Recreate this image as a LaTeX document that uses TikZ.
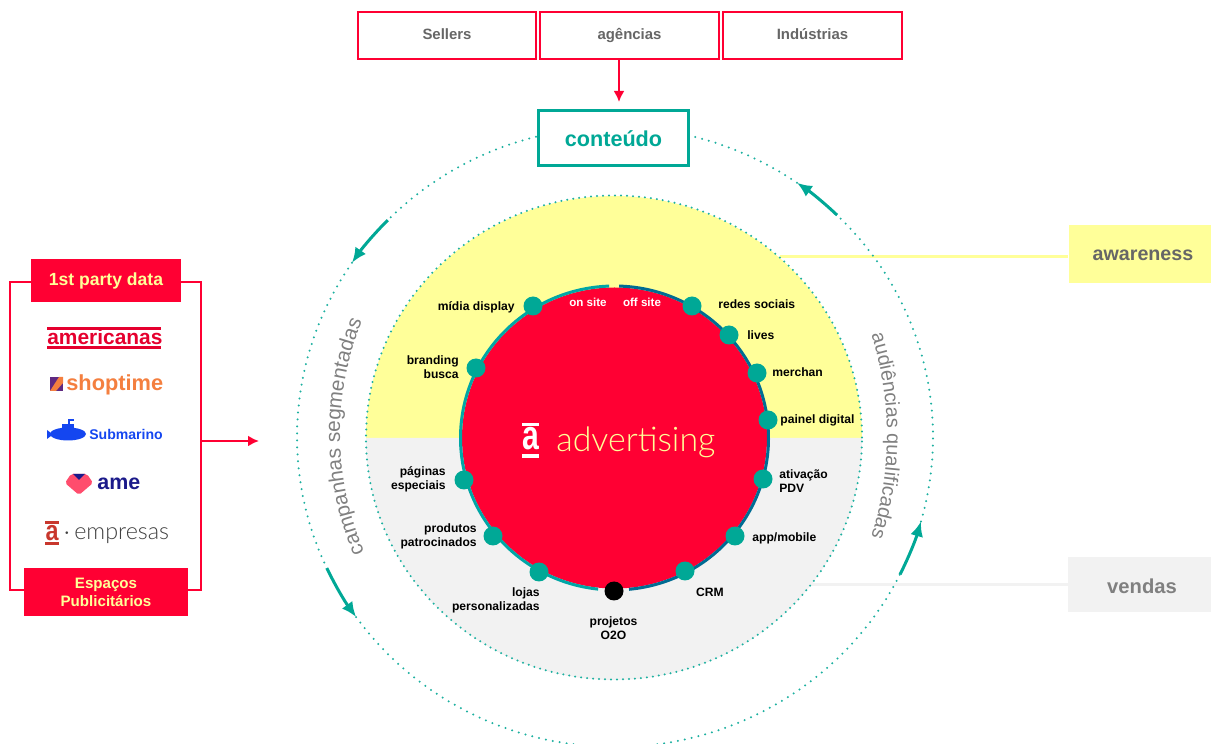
\documentclass[tikz,border=0pt]{standalone}
\usepackage{fontspec}
\setmainfont{Liberation Sans}
\newfontfamily\leve{Lato Light}
\usepackage{graphicx}
\usetikzlibrary{decorations.text,arrows.meta}

\definecolor{vermelho}{HTML}{FF0033}
\definecolor{verde}{HTML}{00A896}
\definecolor{verdeC}{HTML}{1DB0A0}
\definecolor{amarelo}{HTML}{FFFF99}
\definecolor{cinza}{HTML}{F2F2F2}
\definecolor{azul}{HTML}{1446F0}
\definecolor{marinho}{HTML}{1B1A8A}
\definecolor{laranja}{HTML}{F47F3F}
\definecolor{rosa}{HTML}{FF4D6D}
\definecolor{tijolo}{HTML}{C8372D}
\newcommand{\tam}[2]{\fontsize{#1}{#2}\selectfont}

\begin{document}
\begin{tikzpicture}[x=0.02cm, y=0.02cm,
  fonte/.style={draw=vermelho,line width=.04cm,fill=white,inner sep=0,minimum width=3.58cm,minimum height=.94cm,font=\bfseries\tam{8.5}{10},text=black!60,text height=.22cm,text depth=.04cm},
  titulo/.style={fill=vermelho,inner sep=0,text=amarelo,align=center},
  faixa/.style={inner sep=0,minimum width=2.86cm},
  seta/.style={-{Latex[length=.22cm,width=.22cm]},draw=vermelho,line width=.05cm},
  anel/.style={x radius=318,y radius=310},
  pontos/.style={draw=verdeC,line width=.045cm,line cap=round,dash pattern=on 0pt off #1},
  giro/.style={-{Latex[length=.3cm,width=.26cm]},draw=verde,line width=.06cm},
  ponto/.style={circle,fill=verde,inner sep=0,minimum size=.38cm},
  rotulo/.style={inner sep=0,font=\bfseries\tam{6.9}{8},align=#1},
  rotulo/.default=center,
  logo/.style={inner sep=0,anchor=base west}]
\useasboundingbox (0,0) rectangle (1211,744);

\coordinate (centro) at (615,307);
\coordinate (meio) at (614,306.5);
\coordinate (nucleo) at (614.5,306);

% faixas da direita
\node [faixa,fill=amarelo,minimum height=1.16cm,font=\bfseries\tam{11.2}{13},text=black!60,text height=.26cm,text depth=0pt] (awareness) at (1140,490) {\hspace{.12cm}awareness};
\node [faixa,fill=cinza,minimum width=2.86cm,minimum height=1.1cm,font=\bfseries\tam{11.5}{13},text=black!50,text height=.36cm,text depth=0pt] (vendas) at (1139.5,159.5) {\hspace{.1cm}vendas};
\coordinate (fimA) at (780,487);
\coordinate (fimB) at (811,159);
\draw [amarelo,line width=.06cm] (fimA) -- (awareness.west |- fimA);
\draw [cinza,line width=.06cm] (fimB) -- (vendas.west |- fimB);

% meio circulo amarelo e cinza
\fill [amarelo] (366,306) arc[start angle=180,end angle=0,x radius=248,y radius=242] -- cycle;
\fill [cinza] (366,306) arc[start angle=180,end angle=360,x radius=248,y radius=242] -- cycle;
\draw [pontos=.12cm] (meio) ellipse [x radius=248,y radius=242];

% anel de fora
\draw [pontos=.14cm] ([shift={(145.8:318 and 310)}]centro) arc[anel,start angle=145.8,end angle=205];
\draw [pontos=.14cm] ([shift={(215.5:318 and 310)}]centro) arc[anel,start angle=215.5,end angle=333.7];
\draw [pontos=.14cm] ([shift={(-15.8:318 and 310)}]centro) arc[anel,start angle=-15.8,end angle=45.7];
\draw [pontos=.14cm] ([shift={(55.1:318 and 310)}]centro) arc[anel,start angle=55.1,end angle=135.6];
\draw [giro] ([shift={(135.6:318 and 310)}]centro) arc[anel,start angle=135.6,end angle=145.8];
\draw [giro] ([shift={(205:318 and 310)}]centro) arc[anel,start angle=205,end angle=215.5];
\draw [giro] ([shift={(333.7:318 and 310)}]centro) arc[anel,start angle=333.7,end angle=344.2];
\draw [giro] ([shift={(45.7:318 and 310)}]centro) arc[anel,start angle=45.7,end angle=55.1];

% textos curvos
\path [postaction={decorate},decoration={text along path,text align=center,
  text={|\tam{11.8}{13}\color{black!50}|campanhas segmentadas}}]
  (640,310) ++(203.4:300) arc[start angle=203.4,end angle=157.7,radius=300];
\path [postaction={decorate},decoration={text along path,text align=center,
  text={|\tam{11.3}{13}\color{black!50}|audiências qualificadas}}]
  (554,308) ++(17.8:333) arc[start angle=17.8,end angle=-17.8,radius=333];

% circulo vermelho
\fill [vermelho] (nucleo) ellipse [x radius=152.5,y radius=150.5];
\draw [teal!70!cyan,line width=.06cm] ([shift={(92:154 and 152)}]nucleo) arc[start angle=92,end angle=263.9,x radius=154,y radius=152];
\draw [teal!85!blue,line width=.06cm] ([shift={(-84.6:154 and 152)}]nucleo) arc[start angle=-84.6,end angle=88.3,x radius=154,y radius=152];

\node [inner sep=0,text=white] (onsite) at (588,442) {\bfseries\tam{6.6}{8}on site};
\node [inner sep=0,text=white] (offsite) at (642,442) {\bfseries\tam{6.6}{8}off site};

\fill [white] (522,321) rectangle (539,318);
\fill [white] (522,290) rectangle (539,286);
\node [inner sep=0,text=white] (letraA) at (530.5,305) {\scalebox{.73}[1]{\bfseries\tam{23.5}{26}a}};
\node [inner sep=0,anchor=west,text=amarelo] (advertising) at (556,302) {\leve\tam{19.3}{24}advertising};

% pontos do circulo
\node [ponto] (midia) at (533,438) {};
\node [ponto] (redes) at (692,438) {};
\node [ponto] (lives) at (729,409) {};
\node [ponto] (merchan) at (757,371) {};
\node [ponto] (painel) at (768,324) {};
\node [ponto] (branding) at (476,376) {};
\node [ponto] (paginas) at (464,264) {};
\node [ponto] (produtos) at (493,208) {};
\node [ponto] (lojas) at (539,172) {};
\node [ponto,fill=black] (projetos) at (614,153) {};
\node [ponto] (crm) at (685,173) {};
\node [ponto] (app) at (735,208) {};
\node [ponto] (ativacao) at (763,265) {};

\node [rotulo,anchor=east] (tmidia) at (515,437) {mídia display};
\node [rotulo,anchor=west] (tredes) at (718,440) {redes sociais};
\node [rotulo,anchor=west] (tlives) at (747,409) {lives};
\node [rotulo,anchor=west] (tmerchan) at (772,372) {merchan};
\node [rotulo,anchor=west] (tpainel) at (780,324) {painel digital};
\node [rotulo=right,anchor=east] (tbranding) at (459,377) {branding\\busca};
\node [rotulo=right,anchor=east] (tpaginas) at (446,265) {páginas\\especiais};
\node [rotulo=right,anchor=east] (tprodutos) at (477,208) {produtos\\patrocinados};
\node [rotulo=right,anchor=east] (tlojas) at (540,144) {lojas\\personalizadas};
\node [rotulo] (tprojetos) at (613.5,116) {projetos\\O2O};
\node [rotulo] (tcrm) at (710,152) {CRM};
\node [rotulo,anchor=west] (tapp) at (752,206) {app/mobile};
\node [rotulo=left,anchor=west] (tativacao) at (779,263) {ativação\\PDV};

% caixas de cima
\node [fonte] (sellers) at (447,708.5) {Sellers};
\node [fonte] (agencias) at (629.5,708.5) {agências};
\node [fonte] (industrias) at (812.5,708.5) {Indústrias};
\node [draw=verde,line width=.06cm,fill=white,inner sep=0,minimum width=3.02cm,minimum height=1.1cm,font=\bfseries\tam{12.3}{14},text=verde] (conteudo) at (613.5,605.5) {conteúdo};
\coordinate (pontaA) at (619,642);
\draw [seta] (agencias.south -| pontaA) -- (pontaA);

% painel da esquerda
\node [draw=vermelho,line width=.04cm,inner sep=0,minimum width=3.82cm,minimum height=6.16cm] (dados) at (105.5,308) {};
\node [titulo,minimum width=3cm,minimum height=.86cm,font=\bfseries\tam{10}{12}] (party) at (106,463.5) {1st party data};
\node [titulo,minimum width=3.28cm,minimum height=.96cm,font=\bfseries\tam{8.6}{10.2}] (espacos) at (106,152) {Espaços\\Publicitários};
\coordinate (pontaB) at (259,303);
\draw [seta] (dados.east |- pontaB) -- (pontaB);

% marcas
\fill [vermelho!90!black] (47,417) rectangle (161,414);
\fill [vermelho!90!black] (47,398) rectangle (161,395);
\node [logo,text=vermelho!90!black] (americanas) at (47,399.5) {\bfseries\tam{11.9}{14}americanas};

\fill [marinho!70!rosa] (50,353) rectangle (63,367);
\fill [laranja] (50,353) -- (56,353) -- (63,361) -- (63,367) -- (59,367) -- cycle;
\node [logo,text=laranja] (shoptime) at (66,353) {\bfseries\tam{12.4}{14}shoptime};

\fill [azul] (68,310) ellipse [x radius=18,y radius=6.5];
\fill [azul] (62,320) rectangle (74,313);
\fill [azul] (47,314) -- (47,305) -- (53,309.5) -- cycle;
\draw [azul,line width=.04cm] (69,318) -- (69,324) -- (74,324);
\node [logo,text=azul] (submarino) at (89,304) {\bfseries\tam{8}{10}Submarino};

\fill [rosa,rounded corners=.04cm] (65,261) -- (71,270) -- (87,270) -- (93,261) -- (79,249) -- cycle;
\fill [marinho] (73,270) -- (85,270) -- (79,264) -- cycle;
\node [logo,text=marinho] (ame) at (97,254) {\bfseries\tam{12.2}{14}ame};

\fill [tijolo] (45,223) rectangle (59,220);
\fill [tijolo] (45,202) rectangle (59,199);
\node [inner sep=0,text=tijolo] (letraB) at (52,211) {\scalebox{.83}[1]{\bfseries\tam{16}{18}a}};
\node [logo,text=black!75] (empresas) at (63,204) {\leve\tam{13.3}{15}$\cdot$\,empresas};
\end{tikzpicture}
\end{document}
